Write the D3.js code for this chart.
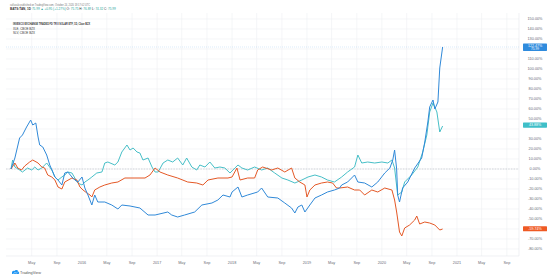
<!DOCTYPE html>
<html>
<head>
<meta charset="utf-8">
<script src="https://cdn.jsdelivr.net/npm/d3@7"></script>
<style>
  body { margin: 0; background: #fff; }
  svg { display: block; font-family: "Liberation Sans", Arial, sans-serif; }
</style>
</head>
<body>
<script>
// Percent change since first bar
var tanData = [
  ["2015-01-20",0],["2015-02-08",11],["2015-03-03",31],["2015-03-17",34],["2015-04-06",42],["2015-04-26",49],
  ["2015-05-06",44],["2015-05-21",46],["2015-06-01",32],["2015-06-09",24],["2015-06-24",22],["2015-07-13",14],
  ["2015-07-28",4],["2015-08-12",-3],["2015-08-22",-8],["2015-09-06",-11],["2015-09-25",-16],["2015-10-09",-4],
  ["2015-10-24",-3],["2015-11-13",-8],["2015-11-27",-11],["2015-12-12",-13],["2016-01-01",-8],["2016-01-15",-19],
  ["2016-01-30",-26],["2016-02-18",-36],["2016-03-03",-26],["2016-03-18",-33],["2016-04-21",-33],["2016-05-25",-36],
  ["2016-06-24",-40],["2016-07-13",-36],["2016-08-22",-37],["2016-10-09",-39],["2016-11-18",-46],["2016-12-22",-46],
  ["2017-02-22",-43],["2017-03-13",-46],["2017-04-11",-48],["2017-05-15",-46],["2017-07-03",-43],["2017-08-07",-36],
  ["2017-09-25",-34],["2017-10-24",-31],["2017-11-18",-26],["2017-12-22",-28],["2018-01-01",-23],["2018-01-30",-18],
  ["2018-02-18",-28],["2018-03-18",-26],["2018-05-06",-23],["2018-05-25",-19],["2018-06-24",-28],["2018-08-12",-29],
  ["2018-09-15",-34],["2018-10-18",-39],["2018-11-03",-44],["2018-11-18",-38],["2018-12-07",-36],["2018-12-22",-43],
  ["2019-01-15",-36],["2019-02-09",-29],["2019-03-13",-26],["2019-04-11",-23],["2019-05-15",-21],["2019-06-09",-19],
  ["2019-06-19",-16],["2019-07-18",-13],["2019-08-21",-6],["2019-09-06",-13],["2019-10-09",-14],["2019-11-13",-18],
  ["2019-12-12",-13],["2020-01-15",-4],["2020-02-09",1],["2020-02-23",9],["2020-03-03",19],["2020-03-13",0],
  ["2020-03-18",-26],["2020-03-27",-33],["2020-04-11",-19],["2020-05-06",-13],["2020-06-09",1],["2020-07-13",11],
  ["2020-07-28",27],["2020-08-12",47],["2020-08-21",62],["2020-09-06",69],["2020-09-15",60],["2020-09-30",67],
  ["2020-10-09",101],["2020-10-23",122]
];

var xleData = [
  ["2015-01-20",0],["2015-02-08",6],["2015-02-22",1],["2015-03-12",-1],["2015-03-28",3],["2015-04-21",7],
  ["2015-05-06",9],["2015-06-01",6],["2015-06-19",2],["2015-07-03",1],["2015-07-18",-6],["2015-08-07",-8],
  ["2015-08-22",-11],["2015-09-06",-18],["2015-09-25",-20],["2015-10-09",-13],["2015-11-13",-9],["2015-12-07",-11],
  ["2015-12-22",-18],["2016-01-06",-21],["2016-01-25",-24],["2016-02-09",-26],["2016-02-18",-28],["2016-03-03",-21],
  ["2016-03-28",-18],["2016-04-21",-16],["2016-05-25",-14],["2016-06-24",-13],["2016-07-28",-9],["2016-09-15",-9],
  ["2016-11-03",-9],["2016-11-27",-6],["2016-12-22",1],["2017-01-15",-3],["2017-02-22",-6],["2017-04-11",-9],
  ["2017-05-30",-13],["2017-07-13",-14],["2017-08-12",-16],["2017-09-06",-11],["2017-10-24",-9],["2017-12-12",-9],
  ["2018-01-01",-8],["2018-01-25",1],["2018-02-09",-11],["2018-03-18",-9],["2018-04-21",-9],["2018-05-06",-1],
  ["2018-05-30",2],["2018-07-13",-1],["2018-08-12",1],["2018-09-15",-3],["2018-10-18",1],["2018-11-03",-9],
  ["2018-11-27",-13],["2018-12-22",-16],["2019-01-01",-28],["2019-01-15",-21],["2019-02-09",-16],["2019-03-13",-14],
  ["2019-04-11",-13],["2019-05-06",-14],["2019-05-25",-19],["2019-06-09",-19],["2019-07-18",-18],["2019-08-21",-21],
  ["2019-09-15",-21],["2019-10-09",-26],["2019-11-13",-21],["2019-12-12",-23],["2020-01-15",-19],["2020-02-19",-21],
  ["2020-03-03",-31],["2020-03-13",-43],["2020-03-27",-63],["2020-04-07",-67],["2020-04-21",-59],["2020-05-15",-56],
  ["2020-06-09",-51],["2020-06-19",-47],["2020-07-03",-55],["2020-07-28",-53],["2020-08-21",-54],["2020-09-15",-56],
  ["2020-10-09",-61],["2020-10-23",-60]
];

var slvData = [
  ["2015-01-20",0],["2015-01-28",9],["2015-02-08",2],["2015-03-03",-1],["2015-03-17",-3],["2015-04-11",1],
  ["2015-05-01",-1],["2015-05-16",2],["2015-06-01",-1],["2015-06-19",1],["2015-07-13",6],["2015-08-07",-1],
  ["2015-08-22",-8],["2015-09-06",-11],["2015-09-25",-8],["2015-10-09",-6],["2015-10-24",-3],["2015-11-13",-4],
  ["2015-11-27",-9],["2015-12-12",-14],["2016-01-01",-16],["2016-01-15",-13],["2016-01-30",-11],["2016-02-18",-8],
  ["2016-03-13",-4],["2016-04-07",-3],["2016-04-21",6],["2016-05-06",7],["2016-06-09",4],["2016-06-24",7],
  ["2016-07-13",17],["2016-08-07",24],["2016-08-22",19],["2016-09-06",21],["2016-09-25",17],["2016-10-09",16],
  ["2016-10-24",9],["2016-11-18",11],["2016-12-07",2],["2016-12-22",-3],["2017-01-06",-3],["2017-01-30",6],
  ["2017-02-22",9],["2017-03-18",7],["2017-04-11",11],["2017-05-06",4],["2017-05-25",11],["2017-06-19",2],
  ["2017-07-13",-1],["2017-07-28",4],["2017-08-22",2],["2017-09-15",7],["2017-10-09",1],["2017-11-03",2],
  ["2017-11-27",1],["2017-12-22",-4],["2018-01-15",1],["2018-01-30",4],["2018-02-18",1],["2018-03-18",-1],
  ["2018-04-21",2],["2018-05-25",-1],["2018-06-24",1],["2018-07-28",-4],["2018-09-01",-9],["2018-09-30",-11],
  ["2018-11-03",-14],["2018-12-07",-11],["2019-01-06",-8],["2019-02-09",-6],["2019-03-13",-8],["2019-04-11",-11],
  ["2019-05-15",-13],["2019-06-19",-8],["2019-07-18",-3],["2019-08-21",2],["2019-09-06",14],["2019-09-25",6],
  ["2019-10-24",7],["2019-11-27",6],["2020-01-01",7],["2020-01-30",6],["2020-02-19",9],["2020-03-03",1],
  ["2020-03-18",-26],["2020-04-07",-23],["2020-04-21",-13],["2020-05-25",-6],["2020-06-24",2],["2020-07-18",17],
  ["2020-08-07",34],["2020-08-21",57],["2020-09-06",66],["2020-09-25",57],["2020-10-09",37],["2020-10-23",43]
];

var xTicks = ["2015-05-01","2015-09-01","2016-01-01","2016-05-01","2016-09-01","2017-01-01","2017-05-01",
  "2017-09-01","2018-01-01","2018-05-01","2018-09-01","2019-01-01","2019-05-01","2019-09-01","2020-01-01",
  "2020-05-01","2020-09-01","2021-01-01","2021-05-01","2021-09-01"];
var yTicks = [150,140,130,120,110,100,90,80,70,60,50,40,30,20,10,0,-10,-20,-30,-40,-50,-60,-70,-80];

var lastLabels = [
  { value: 122.47, text: "122.47%", sub: "75.99", color: "#2f8bdd" },
  { value: 43.88, text: "43.88%", color: "#3fbfc8" },
  { value: -59.74, text: "-59.74%", color: "#ef5a24" }
];

var W = 550, H = 278;
var plot = { left: 6, right: 519, top: 13, bottom: 256 };

var svg = d3.select("body").append("svg")
    .attr("width", W)
    .attr("height", H);

var parse = d3.utcParse("%Y-%m-%d");

// time scale anchored on the year labels of the axis
var x = d3.scaleUtc()
    .domain([parse("2016-01-01"), parse("2021-01-01")])
    .range([82, 457]);

var y = d3.scaleLinear()
    .domain([0, 100])
    .range([169, 69]);

// grid
svg.append("g").selectAll("line")
    .data(yTicks)
    .enter().append("line")
    .attr("x1", plot.left).attr("x2", plot.right)
    .attr("y1", d => y(d)).attr("y2", d => y(d))
    .attr("stroke", "#eef0f4").attr("stroke-width", 0.6);

svg.append("g").selectAll("line")
    .data(xTicks)
    .enter().append("line")
    .attr("x1", d => x(parse(d))).attr("x2", d => x(parse(d)))
    .attr("y1", plot.top).attr("y2", plot.bottom)
    .attr("stroke", "#eef0f4").attr("stroke-width", 0.6);

// scale borders
svg.append("line")
    .attr("x1", plot.left).attr("x2", plot.right)
    .attr("y1", plot.bottom).attr("y2", plot.bottom)
    .attr("stroke", "#e6e8ec").attr("stroke-width", 0.6);
svg.append("line")
    .attr("x1", plot.right).attr("x2", plot.right)
    .attr("y1", plot.top).attr("y2", plot.bottom)
    .attr("stroke", "#e6e8ec").attr("stroke-width", 0.6);

// zero baseline
svg.append("line")
    .attr("x1", plot.left).attr("x2", plot.right)
    .attr("y1", y(0)).attr("y2", y(0))
    .attr("stroke", "#b8bcc4").attr("stroke-width", 0.6)
    .attr("stroke-dasharray", "1.5,1.2");

// last price line of the main series
var tanLast = tanData[tanData.length - 1][1];
svg.append("line")
    .attr("x1", plot.left).attr("x2", plot.right)
    .attr("y1", y(tanLast)).attr("y2", y(tanLast))
    .attr("stroke", "#2f8bdd").attr("stroke-width", 0.5)
    .attr("stroke-opacity", 0.35)
    .attr("stroke-dasharray", "1,1");

var line = d3.line()
    .x(d => x(parse(d[0])))
    .y(d => y(d[1]));

var series = [
  { data: slvData, color: "#47bfc7" },
  { data: xleData, color: "#e45826" },
  { data: tanData, color: "#3089d8" }
];

svg.append("g").selectAll("path")
    .data(series)
    .enter().append("path")
    .attr("d", d => line(d.data))
    .attr("fill", "none")
    .attr("stroke", d => d.color)
    .attr("stroke-width", 1)
    .attr("stroke-linejoin", "round");

// right price scale, skip labels hidden by the last value boxes
svg.append("g").selectAll("text")
    .data(yTicks.filter(t => !lastLabels.some(l => Math.abs(y(t) - y(l.value)) < 5)))
    .enter().append("text")
    .attr("x", 535)
    .attr("y", d => y(d) + 1.3)
    .attr("text-anchor", "middle")
    .attr("font-size", 3.8)
    .attr("fill", "#6a6d78")
    .text(d => d.toFixed(2) + "%");

var boxes = svg.append("g").selectAll("g")
    .data(lastLabels)
    .enter().append("g")
    .attr("transform", d => "translate(523," + y(d.value) + ")");

boxes.append("rect")
    .attr("x", 0)
    .attr("y", d => d.sub ? -3 : -2.6)
    .attr("width", 24)
    .attr("height", d => d.sub ? 7.4 : 5.2)
    .attr("rx", 0.6)
    .attr("fill", d => d.color);

boxes.append("text")
    .attr("x", 12)
    .attr("y", d => d.sub ? 0.2 : 1.3)
    .attr("text-anchor", "middle")
    .attr("font-size", 3.6)
    .attr("fill", "#fff")
    .text(d => d.text);

boxes.filter(d => d.sub).append("text")
    .attr("x", 12)
    .attr("y", 3.6)
    .attr("text-anchor", "middle")
    .attr("font-size", 3.2)
    .attr("fill", "#fff")
    .text(d => d.sub);

// time scale labels
var fmt = d3.utcFormat("%b");
svg.append("g").selectAll("text")
    .data(xTicks)
    .enter().append("text")
    .attr("x", d => x(parse(d)))
    .attr("y", 264)
    .attr("text-anchor", "middle")
    .attr("font-size", 3.8)
    .attr("fill", "#6a6d78")
    .text(d => parse(d).getUTCMonth() === 0 ? d.slice(0, 4) : fmt(parse(d)));

// header
svg.append("text")
    .attr("x", 10).attr("y", 5.5)
    .attr("font-size", 3)
    .attr("fill", "#777")
    .attr("textLength", 80)
    .attr("lengthAdjust", "spacingAndGlyphs")
    .text("solluvalo published on TradingView.com, October 24, 2020 18:17:02 UTC");

var info = svg.append("text")
    .attr("x", 10).attr("y", 9.5)
    .attr("font-size", 3.1)
    .attr("fill", "#333");
info.append("tspan").attr("font-weight", "bold").text("BATS:TAN, 1D ");
info.append("tspan").attr("fill", "#26a69a").text("75.99 \u25B2 +0.95 (+1.27%) ");
info.append("tspan").text("O: ");
info.append("tspan").attr("fill", "#26a69a").text("75.75 ");
info.append("tspan").text("H: ");
info.append("tspan").attr("fill", "#26a69a").text("76.89 ");
info.append("tspan").text("L: ");
info.append("tspan").attr("fill", "#26a69a").text("74.32 ");
info.append("tspan").text("C: ");
info.append("tspan").attr("fill", "#26a69a").text("75.99");

var legendLines = ["INVESCO EXCHANGE TRADED FD TR II SOLAR ETF, 1D, Cboe BZX", "XLE, CBOE BZX", "SLV, CBOE BZX"];
var legendWidths = [77, 22, 22];
svg.append("g").selectAll("text")
    .data(legendLines)
    .enter().append("text")
    .attr("x", 13)
    .attr("y", (d, i) => 25 + i * 4.5)
    .attr("font-size", 3.2)
    .attr("font-weight", (d, i) => i === 0 ? "bold" : "normal")
    .attr("fill", "#333")
    .attr("textLength", (d, i) => legendWidths[i])
    .attr("lengthAdjust", "spacingAndGlyphs")
    .text(d => d);

// TradingView mark
var logo = svg.append("g").attr("transform", "translate(12,270)");
logo.append("path")
    .attr("d", "M0,4 L0,2.2 A1.6,1.6 0 0 1 2.4,1 A2.2,2.2 0 0 1 6.4,1.8 A1.2,1.2 0 0 1 6.6,4 Z")
    .attr("fill", "#2196f3");
logo.append("path")
    .attr("d", "M1.4,3.6 L3,2.4 L4.2,3.2 L5.6,2")
    .attr("fill", "none")
    .attr("stroke", "#fff")
    .attr("stroke-width", 0.5);
svg.append("text")
    .attr("x", 20).attr("y", 273.8)
    .attr("font-size", 3.8)
    .attr("fill", "#555")
    .text("TradingView");
</script>
</body>
</html>
